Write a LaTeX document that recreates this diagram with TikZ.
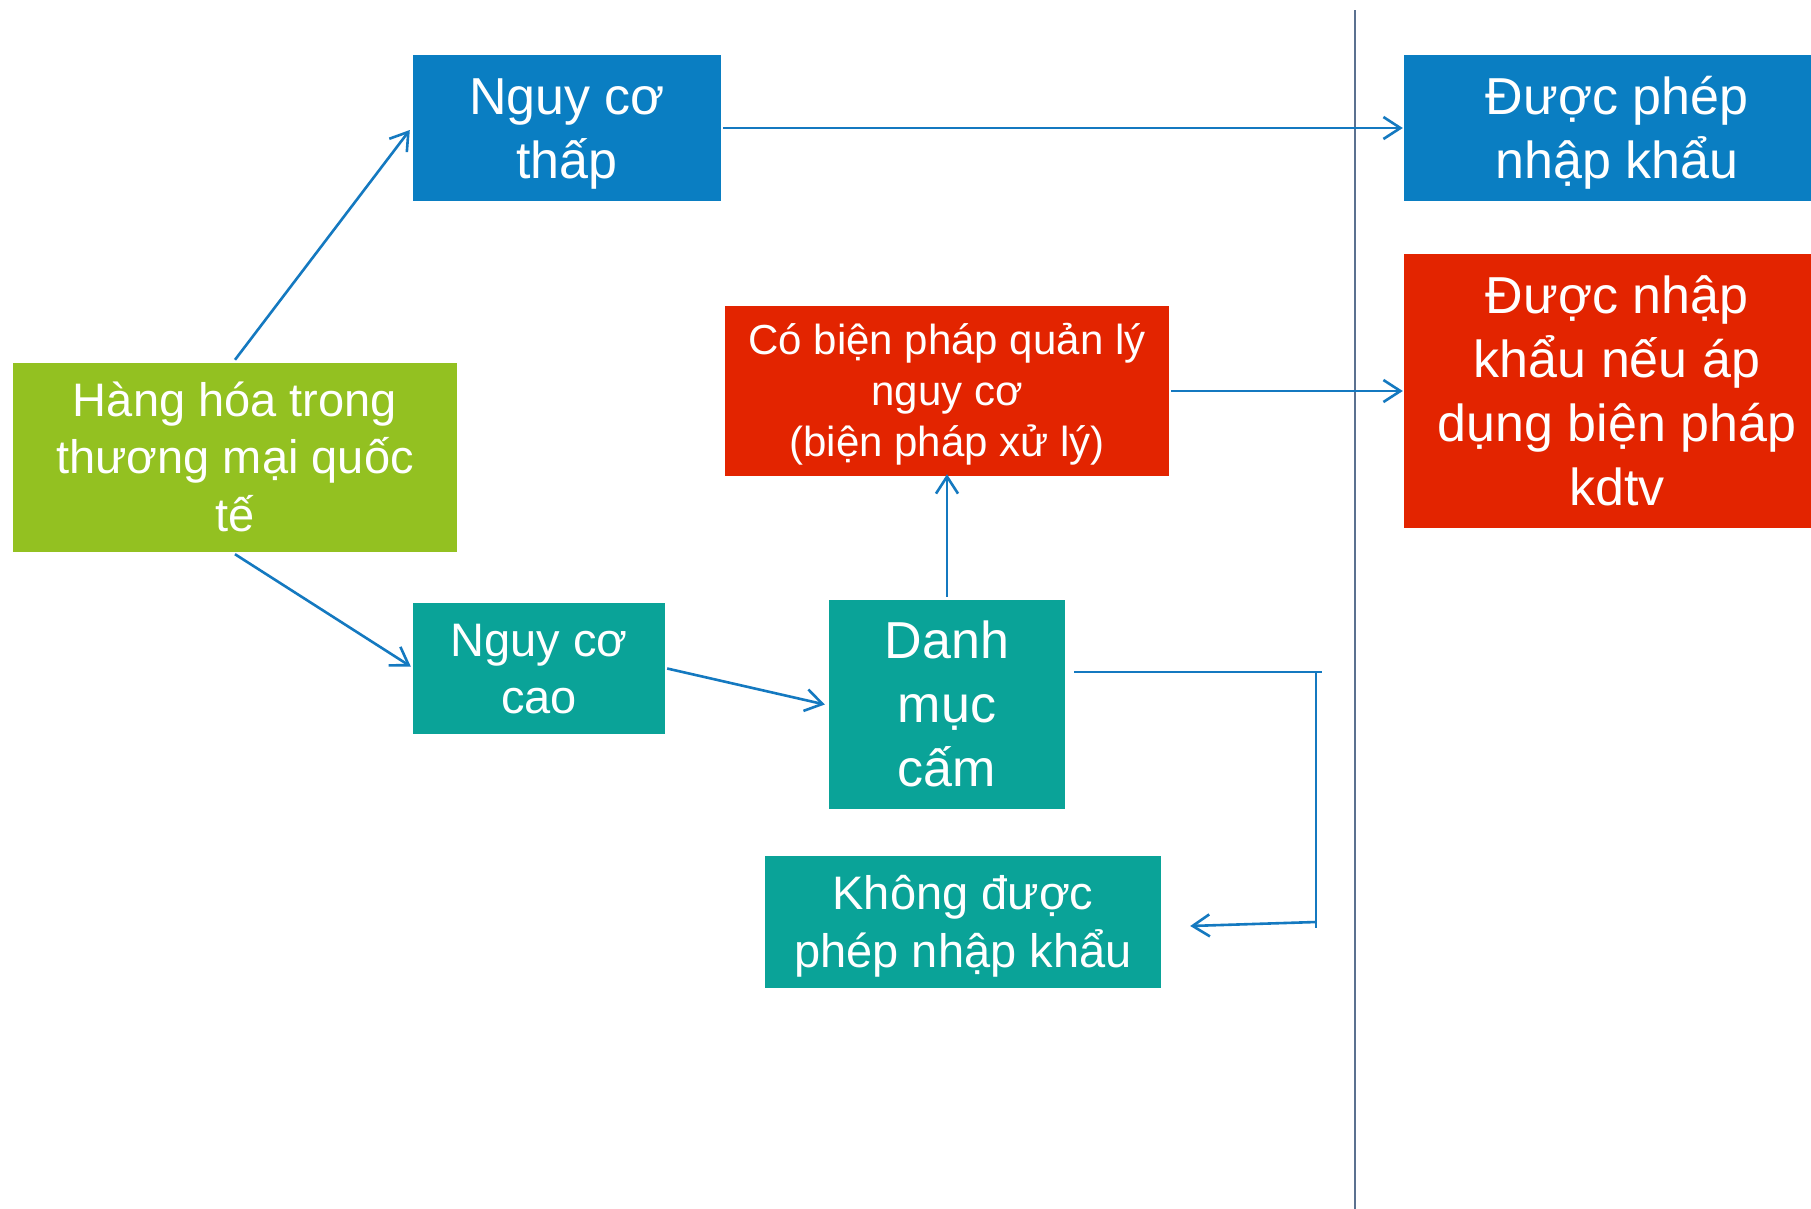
\documentclass[tikz,border=0pt]{standalone}
\usepackage{fontspec}
\setmainfont{Liberation Sans}
\usetikzlibrary{arrows.meta,calc}
\definecolor{cblue}{HTML}{0A7EC2}
\definecolor{cteal}{HTML}{0AA398}
\definecolor{cgreen}{HTML}{93C121}
\definecolor{cred}{HTML}{E32400}
\definecolor{carrow}{HTML}{1479C0}
\definecolor{cline}{HTML}{5B7190}
\newcommand{\mystrut}{\rule[-0.212em]{0pt}{1.117em}}
\tikzset{
  box/.style={rectangle, inner sep=0pt, text=white, align=center},
  big/.style={font=\fontsize{52}{64}\selectfont},
  mid/.style={font=\fontsize{47}{57.5}\selectfont},
  small/.style={font=\fontsize{42}{51}\selectfont},
  conn/.style={draw=carrow, line width=2.6pt, -{Straight Barb[length=17pt,width=22pt,line width=2.6pt]}},
  thin/.style={draw=carrow, line width=1.8pt},
}
\begin{document}
\begin{tikzpicture}[x=1pt,y=-1pt]
\useasboundingbox (0,0) rectangle (1811,1208);
\clip (0,0) rectangle (1811,1208);
\fill[white] (0,0) rectangle (1811,1208);
% separator
\draw[cline, line width=2pt] (1355,10) coordinate (s1) -- (1355,1210) coordinate (s2);
% nodes
\node[box, big, fill=cblue, minimum width=308pt, minimum height=146pt] (thap) at (567,128) {\mystrut Nguy cơ\\\mystrut thấp};
\node[box, mid, fill=cgreen, minimum width=444pt, minimum height=189pt] (hang) at (235,457.5) {\mystrut Hàng hóa trong\\\mystrut thương mại quốc\\\mystrut tế};
\node[box, small, fill=cred, minimum width=444pt, minimum height=170pt] (bien) at (947,391) {\mystrut Có biện pháp quản lý\\\mystrut nguy cơ\\\mystrut (biện pháp xử lý)};
\node[box, big, fill=cblue, minimum width=426pt, minimum height=146pt] (duoc1) at (1617,128) {\mystrut Được phép\\\mystrut nhập khẩu};
\node[box, big, fill=cred, minimum width=426pt, minimum height=274pt] (duoc2) at (1617,391) {\mystrut Được nhập\\\mystrut khẩu nếu áp\\\mystrut dụng biện pháp\\\mystrut kdtv};
\node[box, mid, fill=cteal, minimum width=252pt, minimum height=131pt] (cao) at (539,668.5) {\mystrut Nguy cơ\\\mystrut cao};
\node[box, big, fill=cteal, minimum width=236pt, minimum height=209pt] (danh) at (947,704.5) {\mystrut Danh\\\mystrut mục\\\mystrut cấm};
\node[box, mid, fill=cteal, minimum width=396pt, minimum height=132pt] (khong) at (963,922) {\mystrut Không được\\\mystrut phép nhập khẩu};
% connectors
\draw[conn] ($(hang.north)+(0,-3)$) -- ($(thap.west)+(-3,2)$);
\draw[conn] ($(hang.south)+(0,2)$) -- ($(cao.west)+(-2,-2)$);
\draw[conn] ($(cao.east)+(2,0)$) -- ($(danh.west)+(-4,0)$);
\draw[conn] ($(danh.north)+(0,-3)$) -- ($(bien.south)+(0,-2)$);
\draw[conn] ($(thap.east)+(2,0)$) -- ($(duoc1.west)+(-1,0)$);
\draw[conn] ($(bien.east)+(2,0)$) -- ($(duoc2.west)+(-1,0)$);
\coordinate (e1) at (1074,672);
\coordinate (e2) at (1322,672);
\coordinate (e3) at (1316,672);
\coordinate (e4) at (1316,928);
\coordinate (e5) at (1316,922);
\draw[thin] (e1) -- (e2);
\draw[thin] (e3) -- (e4);
\draw[conn] (e5) -- ($(khong.east)+(29,4)$);
\end{tikzpicture}
\end{document}
